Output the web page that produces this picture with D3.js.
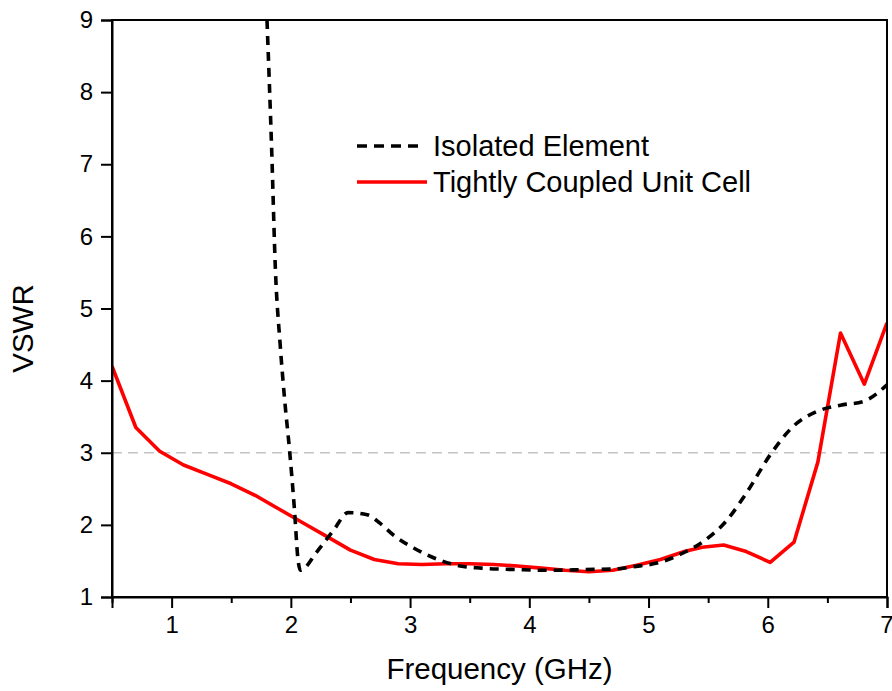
<!DOCTYPE html>
<html>
<head>
<meta charset="utf-8">
<script src="https://cdn.jsdelivr.net/npm/d3@7/dist/d3.min.js"></script>
<style>
  html, body { margin: 0; padding: 0; background: #fff; }
  svg { display: block; font-family: Arial, "Liberation Sans", Helvetica, sans-serif; }
</style>
</head>
<body>
<svg id="chart" width="892" height="691"></svg>
<script>
// VSWR vs frequency: isolated element and tightly coupled unit cell
const isolatedFreq = [1.80, 1.84, 1.87, 1.91, 1.95, 1.99, 2.03, 2.06, 2.08, 2.22, 2.36, 2.48, 2.64, 2.75, 2.86, 3.03, 3.25, 3.42, 3.60, 3.90, 4.17, 4.45, 4.73, 4.87, 5.07, 5.29, 5.46, 5.66, 5.82, 6.02, 6.21, 6.41, 6.61, 6.80, 7.00];
const isolatedVswr = [9.00, 7.16, 5.56, 4.51, 3.70, 3.02, 2.22, 1.52, 1.37, 1.63, 1.93, 2.17, 2.14, 2.02, 1.86, 1.68, 1.51, 1.43, 1.40, 1.38, 1.37, 1.38, 1.39, 1.42, 1.47, 1.61, 1.77, 2.07, 2.44, 2.97, 3.36, 3.57, 3.66, 3.71, 3.94];

const coupledFreq = [0.50, 0.70, 0.90, 1.10, 1.30, 1.50, 1.70, 1.90, 2.10, 2.30, 2.50, 2.70, 2.90, 3.10, 3.30, 3.50, 3.70, 3.90, 4.10, 4.30, 4.50, 4.70, 4.90, 5.10, 5.30, 5.45, 5.63, 5.82, 6.02, 6.22, 6.42, 6.61, 6.81, 7.00];
const coupledVswr = [4.20, 3.35, 3.02, 2.83, 2.70, 2.57, 2.41, 2.22, 2.03, 1.84, 1.65, 1.52, 1.46, 1.45, 1.46, 1.46, 1.45, 1.43, 1.40, 1.37, 1.35, 1.37, 1.44, 1.52, 1.63, 1.69, 1.72, 1.63, 1.48, 1.76, 2.87, 4.66, 3.95, 4.80];

const xTicks = [1, 2, 3, 4, 5, 6, 7];
const xMinorTicks = [0.5, 1.5, 2.5, 3.5, 4.5, 5.5, 6.5];
const yTicks = [1, 2, 3, 4, 5, 6, 7, 8, 9];
const thresholdVswr = 3;

const seriesNames = ["Isolated Element", "Tightly Coupled Unit Cell"];

const plotLeft = 112, plotRight = 887, plotTop = 20, plotBottom = 597;

const svg = d3.select("#chart");
const x = d3.scaleLinear().domain([0.5, 7]).range([plotLeft, plotRight]);
const y = d3.scaleLinear().domain([1, 9]).range([plotBottom, plotTop]);

svg.append("defs").append("clipPath").attr("id", "plotClip")
  .append("rect").attr("x", plotLeft).attr("y", plotTop)
  .attr("width", plotRight - plotLeft).attr("height", plotBottom - plotTop);

// VSWR = 3 reference line
svg.append("line")
  .attr("x1", x(0.5)).attr("x2", x(7))
  .attr("y1", y(thresholdVswr)).attr("y2", y(thresholdVswr))
  .attr("stroke", "#c4c4c4").attr("stroke-width", 1.6)
  .attr("stroke-dasharray", "10,6");

const plot = svg.append("g").attr("clip-path", "url(#plotClip)");

const isolated = isolatedFreq.map((f, i) => [f, isolatedVswr[i]]);
const coupled = coupledFreq.map((f, i) => [f, coupledVswr[i]]);

const smoothLine = d3.line().x(d => x(d[0])).y(d => y(d[1])).curve(d3.curveMonotoneX);
const straightLine = d3.line().x(d => x(d[0])).y(d => y(d[1]));

plot.append("path").datum(coupled)
  .attr("d", straightLine)
  .attr("fill", "none").attr("stroke", "#ff0000")
  .attr("stroke-width", 3.6).attr("stroke-linejoin", "round");

plot.append("path").datum(isolated)
  .attr("d", smoothLine)
  .attr("fill", "none").attr("stroke", "#000")
  .attr("stroke-width", 3.6).attr("stroke-dasharray", "9,7")
  .attr("stroke-linecap", "butt");

// Frame
svg.append("rect")
  .attr("x", plotLeft).attr("y", plotTop)
  .attr("width", plotRight - plotLeft).attr("height", plotBottom - plotTop)
  .attr("fill", "none").attr("stroke", "#000").attr("stroke-width", 2);

// Axes
const xAxis = svg.append("g").attr("transform", `translate(0,${plotBottom})`)
  .call(d3.axisBottom(x).tickValues(xTicks).tickFormat(d3.format("d")).tickSize(11).tickPadding(8));
svg.append("g").attr("transform", `translate(0,${plotBottom})`)
  .call(d3.axisBottom(x).tickValues(xMinorTicks).tickFormat("").tickSize(6))
  .call(g => g.select(".domain").remove())
  .selectAll("line").attr("stroke-width", 2);

const yAxis = svg.append("g").attr("transform", `translate(${plotLeft},0)`)
  .call(d3.axisLeft(y).tickValues(yTicks).tickFormat(d3.format("d")).tickSize(11).tickPadding(8));

[xAxis, yAxis].forEach(g => {
  g.select(".domain").attr("stroke-width", 2);
  g.selectAll(".tick line").attr("stroke-width", 2);
  g.selectAll(".tick text").attr("font-size", 24).attr("fill", "#000")
    .attr("font-family", "Arial, 'Liberation Sans', sans-serif");
});
// the last x label sits at the window's right edge
xAxis.selectAll(".tick text").filter(d => d === 7).attr("text-anchor", "end").attr("dx", "0.25em");

// Axis titles
svg.append("text")
  .attr("x", (plotLeft + plotRight) / 2).attr("y", 679)
  .attr("text-anchor", "middle").attr("font-size", 29.5).attr("fill", "#000")
  .text("Frequency (GHz)");

svg.append("text")
  .attr("transform", `translate(33,${(plotTop + plotBottom) / 2 + 20}) rotate(-90)`)
  .attr("text-anchor", "middle").attr("font-size", 29.5).attr("fill", "#000")
  .text("VSWR");

// Legend
const legend = svg.append("g");
legend.append("line")
  .attr("x1", 357).attr("x2", 421).attr("y1", 146).attr("y2", 146)
  .attr("stroke", "#000").attr("stroke-width", 3.6).attr("stroke-dasharray", "10,7");
legend.append("line")
  .attr("x1", 357).attr("x2", 427).attr("y1", 182).attr("y2", 182)
  .attr("stroke", "#ff0000").attr("stroke-width", 3.6);
legend.append("text").attr("x", 433).attr("y", 156)
  .attr("font-size", 29).attr("fill", "#000").text(seriesNames[0]);
legend.append("text").attr("x", 433).attr("y", 192)
  .attr("font-size", 29).attr("fill", "#000").text(seriesNames[1]);
</script>
</body>
</html>
